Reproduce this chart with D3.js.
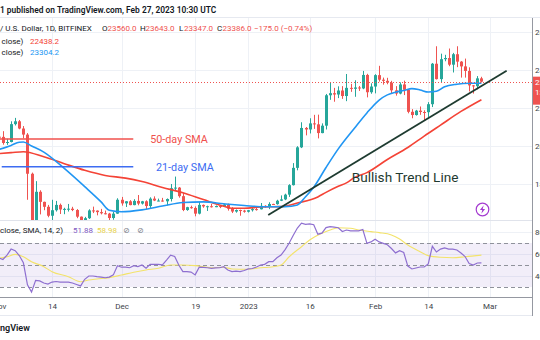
<!DOCTYPE html>
<html><head><meta charset="utf-8">
<script src="https://cdn.jsdelivr.net/npm/d3@7"></script>
<style>body{margin:0;background:#fff;overflow:hidden}svg{display:block;font-family:Roboto,"Noto Sans",sans-serif}</style>
</head><body><svg id="c" width="540" height="340"></svg>
<script>
// ---------- DATA ----------
const startDate = "2022-11-01"; // first daily candle (BTC/USD, Bitfinex, 1D)
const opens = [20490,20480,20160,20210,21150,21300,20920,20600,18540,15890,17590,17060,16800,16330,16620,16900,16660,16690,16700,16630,16280,15780,16200,16610,16600,16520,16460,16440,16210,16440,
17170,16980,17090,16890,17110,16970,17090,16840,17230,17130,17130,17090,17210,17780,17810,17360,16630,16780,16740,16440,16900,16820,16830,16780,16840,16830,16920,16700,16550,16630,16600,
16540,16620,16680,16670,16850,16830,16950,16940,17120,17190,17440,17940,18850,19930,20950,20870,21190,21140,20680,21070,22670,22780,22710,22920,22630,23060,23010,23080,23030,23740,22830,
23130,23730,23490,23430,23330,22930,22760,23240,22960,21800,21630,21860,21790,21780,22200,24330,23520,24570,24630,24280,24830,24440,24190,23950,23190,23150,23560];
const highs = [20700,20780,20380,21300,21480,21370,21050,20680,18600,18150,17670,17070,16900,17170,17110,16970,16750,16950,16800,16680,16290,16270,16670,16810,16610,16690,16600,16480,16530,17250,
17320,17100,17150,17200,17420,17110,17140,17300,17350,17230,17270,17240,18000,18390,17840,17530,16800,16860,16820,17050,16920,16860,16950,16870,16860,16940,16970,16780,16660,16650,16640,
16630,16760,16780,17000,16880,17040,16960,17170,17400,17490,17990,19100,19990,21250,21000,21460,21640,21650,21190,22740,23320,23060,23140,23150,23790,23270,23460,23160,23950,23800,23300,
23780,24220,23600,23590,23430,23150,23350,23440,23000,21940,21900,22080,21880,22310,24370,25250,24860,24800,25130,24900,25250,24470,24600,24140,23210,23680,23643];
const lows = [20330,20070,20060,20190,21080,20880,20400,17170,15600,15760,16400,16620,16250,15820,16550,16420,16410,16550,16570,16200,15480,15620,16160,16470,16350,16400,16400,16000,16120,16430,
16860,16790,16880,16880,16880,16920,16680,16740,17100,17090,17070,16870,17080,17660,17280,16570,16590,16700,16300,16400,16750,16580,16760,16780,16730,16790,16600,16470,16490,16330,16490,
16500,16550,16600,16660,16750,16680,16900,16910,17100,17150,17320,17920,18720,19890,20560,20660,20900,20400,20670,20870,22430,22330,22520,22480,22360,22850,22590,22900,22990,22560,22750,
22770,23390,23230,23250,22770,22650,22720,22680,21720,21460,21600,21640,21360,21530,22050,23500,23360,24460,24200,23870,24150,23600,23600,22870,22760,22980,23347];
const closes = [20480,20160,20210,21150,21300,20920,20600,18540,15890,17590,17060,16800,16330,16620,16900,16660,16690,16700,16630,16280,15780,16200,16610,16600,16520,16460,16440,16210,16440,17170,
16980,17090,16890,17110,16970,17090,16840,17230,17130,17130,17090,17210,17780,17810,17360,16630,16780,16740,16440,16900,16820,16830,16780,16840,16830,16920,16700,16550,16630,16600,16540,
16620,16680,16670,16850,16830,16950,16940,17120,17190,17440,17940,18850,19930,20950,20870,21190,21140,20680,21070,22670,22780,22710,22920,22630,23060,23010,23080,23030,23740,22830,23130,
23730,23490,23430,23330,22930,22760,23240,22960,21800,21630,21860,21790,21780,22200,24330,23520,24570,24630,24280,24830,24440,24190,23950,23190,23150,23560,23386];

// SMA lines (day offset from startDate, price)
const sma21Days = [0,3,5,6,8,11,16,21,25,27,30,35,40,45,50,55,60,65,70,73,75,77,80,83,87,90,93,95,97,99,101,103,105,107,109,112,115,118];
const sma21Vals = [19820,20030,20200,20210,20000,19680,18820,17860,17060,16620,16540,16640,16840,17030,17060,16960,16870,16800,16810,16900,17330,17830,18870,19850,20950,21740,22420,22690,22830,22920,23020,22950,22840,22880,23120,23250,23300,23304];
const sma50Days = [0,3,6,11,16,21,26,31,35,40,45,50,55,57,60,64,69,73,78,80,83,85,87,90,95,100,104,108,113,118];
const sma50Vals = [19600,19650,19700,19430,19070,18720,18450,18310,18130,17820,17540,17180,16830,16720,16720,16790,16810,17000,17320,17560,17880,18060,18350,18600,19290,19920,20520,21100,21820,22438];

// RSI (14) daily values and its SMA (sampled)
const rsi = [56.4,55,59,64.5,63,58.6,52,32,25.5,36,35.5,33.6,32.7,34.5,35,34.5,34.5,34.5,33.6,32.3,
31,37,40,40,39.4,39,38.4,39,41,49.4,48,48,47.5,49.4,48.5,50,47,50.6,50.6,50.5,
50.2,54.5,59,57.7,50,44,44,43.6,41,48,47.9,47.5,47,47.3,47.5,48.4,45.5,44,44.4,44,
45,46.4,46.8,48.2,50,50.6,53,53,56.6,59,64,70,77,83.6,88,87,87.3,86.6,78,79,
84,84.8,84.4,83.9,80.5,81.8,81,81,81,82.3,69.7,71,73.4,71,69.7,68.4,65,61,63,61.4,
49,46.4,47.3,48.2,48.2,51,67,61.8,64.5,65.5,64.5,64.5,63.6,60.9,57.7,51.4,50,51.8,51.88];
const rsiSmaDays = [0,2,4,6,8,11,13,17,20,22,24,27,30,33,36,39,42,45,48,52,55,57,61,64,66,69,71,74,76,79,81,83,86,88,91,93,96,98,100,103,105,108,111,114,118];
const rsiSmaVals = [56.1,57.5,59.7,57.5,53,48.5,43.9,39.4,34.8,36.4,37.3,38.5,40.9,43.4,45.5,47,50,50,49.4,47.5,47.9,46.4,46.1,47.5,47.9,50,57.5,66.6,72.7,78.8,81.8,83.9,83.4,81.8,80.3,79.4,77.3,73.6,68.2,62.1,58.5,57,56.6,57.5,58.98];

// axis ticks
const xTickDates = ["2022-11-01","2022-11-14","2022-12-01","2022-12-19","2023-01-01","2023-01-16","2023-02-01","2023-02-14","2023-03-01"];
const xTickLabels = ["Nov","14","Dec","19","2023","16","Feb","14","Mar"];
const priceTicks = [18000,20000,22000,24000,26000];
const rsiTicks = [40,60,80];
const rsiLevels = [70,50,30];
const lastPrice = 23386;

// drawings (time, price)
const trendTimes = ["2023-01-05T21:00Z","2023-03-05T04:00Z"];
const trendPrices = [16368,23963];
const hlineRed = {from:"2022-11-01T06:00Z", to:"2022-12-03T21:00Z", price:20368, label:"50-day SMA", labelAt:"2022-12-08T00:00Z"};
const hlineBlue = {from:"2022-11-01T17:00Z", to:"2022-12-03T21:00Z", price:18911, label:"21-day SMA", labelAt:"2022-12-09T10:00Z"};
const trendLabel = {text:"Bullish Trend Line", at:"2023-01-26T07:00Z", price:18121};

// ---------- LAYOUT ----------
const svg = d3.select("#c");
const axisX = 532, mainTop = 18, mainBot = 220, rsiBot = 297;
const up = "#26a69a", down = "#ef5350";
const parse = s => new Date(s.length === 10 ? s + "T00:00Z" : s);
const start = parse(startDate);
const dates = closes.map((_, i) => d3.utcDay.offset(start, i));

const x = d3.scaleUtc().domain([parse("2022-11-14"), parse("2023-03-01")]).range([52, 489.6]);
const y = d3.scaleLinear().domain([18000, 24000]).range([184, 70]);
const yr = d3.scaleLinear().domain([30, 70]).range([287, 243]);

svg.append("rect").attr("width", 540).attr("height", 340).attr("fill", "#fff");

const defs = svg.append("defs");
defs.append("clipPath").attr("id", "mainClip").append("rect").attr("x", 0).attr("y", mainTop).attr("width", axisX).attr("height", mainBot - mainTop);
defs.append("clipPath").attr("id", "rsiClip").append("rect").attr("x", 0).attr("y", mainBot).attr("width", axisX).attr("height", rsiBot - mainBot);

// header separator
svg.append("line").attr("x1", 0).attr("x2", 540).attr("y1", 17.5).attr("y2", 17.5).attr("stroke", "#e6e9f0");

// vertical grid
svg.append("g").selectAll("line").data(xTickDates).join("line")
  .attr("x1", d => Math.round(x(parse(d))) + 0.5).attr("x2", d => Math.round(x(parse(d))) + 0.5)
  .attr("y1", mainTop).attr("y2", rsiBot).attr("stroke", "#eef1f6");
// horizontal grid main
svg.append("g").selectAll("line").data(priceTicks).join("line")
  .attr("x1", 0).attr("x2", axisX).attr("y1", d => Math.round(y(d)) + 0.5).attr("y2", d => Math.round(y(d)) + 0.5)
  .attr("stroke", "#eef1f6");
// RSI grid
svg.append("g").selectAll("line").data(rsiTicks).join("line")
  .attr("x1", 0).attr("x2", axisX).attr("y1", d => Math.round(yr(d)) + 0.5).attr("y2", d => Math.round(yr(d)) + 0.5)
  .attr("stroke", "#eef1f6");

// pane separator
svg.append("line").attr("x1", 0).attr("x2", axisX).attr("y1", mainBot + 0.5).attr("y2", mainBot + 0.5).attr("stroke", "#e0e3eb");

// ---------- MAIN PANE ----------
const main = svg.append("g").attr("clip-path", "url(#mainClip)");
const candles = dates.map((d, i) => ({d, o: opens[i], h: highs[i], l: lows[i], c: closes[i]}));
const cg = main.append("g").selectAll("g").data(candles).join("g");
cg.append("line")
  .attr("x1", d => Math.round(x(d.d)) + 0.5).attr("x2", d => Math.round(x(d.d)) + 0.5)
  .attr("y1", d => y(d.h)).attr("y2", d => y(d.l))
  .attr("stroke", d => d.c >= d.o ? up : down).attr("stroke-width", 1);
cg.append("rect")
  .attr("x", d => Math.round(x(d.d)) - 1).attr("width", 3)
  .attr("y", d => y(Math.max(d.o, d.c)))
  .attr("height", d => Math.max(1, Math.abs(y(d.o) - y(d.c))))
  .attr("fill", d => d.c >= d.o ? up : down);

const smaLine = d3.line().x(d => x(dates[d[0]])).y(d => y(d[1])).curve(d3.curveMonotoneX);
main.append("path").datum(sma50Days.map((d, i) => [d, sma50Vals[i]])).attr("d", smaLine)
  .attr("fill", "none").attr("stroke", "#f44336").attr("stroke-width", 1.6);
main.append("path").datum(sma21Days.map((d, i) => [d, sma21Vals[i]])).attr("d", smaLine)
  .attr("fill", "none").attr("stroke", "#2196f3").attr("stroke-width", 1.6);

// last price line
main.append("line").attr("x1", 0).attr("x2", axisX).attr("y1", Math.round(y(lastPrice)) + 0.5).attr("y2", Math.round(y(lastPrice)) + 0.5)
  .attr("stroke", "#ef5350").attr("stroke-dasharray", "1,2").attr("stroke-width", 1);

// drawings
[[hlineRed, "#f0504c", "#f0504c"], [hlineBlue, "#3d6cf2", "#3d6cf2"]].forEach(([h, c, tc]) => {
  main.append("line").attr("x1", x(parse(h.from))).attr("x2", x(parse(h.to)))
    .attr("y1", y(h.price)).attr("y2", y(h.price)).attr("stroke", c).attr("stroke-width", 1.6);
  main.append("text").attr("x", x(parse(h.labelAt))).attr("y", y(h.price)).attr("dy", "0.36em")
    .attr("font-size", 10.8).attr("fill", tc).text(h.label);
});
main.append("line")
  .attr("x1", x(parse(trendTimes[0]))).attr("y1", y(trendPrices[0]))
  .attr("x2", x(parse(trendTimes[1]))).attr("y2", y(trendPrices[1]))
  .attr("stroke", "#1e3b30").attr("stroke-width", 1.8);
main.append("text").attr("x", x(parse(trendLabel.at))).attr("y", y(trendLabel.price))
  .attr("font-size", 13.6).attr("fill", "#1f3a30").text(trendLabel.text);

// lightning icon
const ic = svg.append("g").attr("transform", "translate(482.5,209.5)");
ic.append("circle").attr("r", 6.3).attr("fill", "#fff").attr("stroke", "#a43ad0").attr("stroke-width", 1.2);
ic.append("path").attr("d", "M1.2,-4.2 L-2.6,0.6 L-0.2,0.6 L-1.2,4.2 L2.6,-0.6 L0.2,-0.6 Z").attr("fill", "#a43ad0");

// ---------- RSI PANE ----------
const rp = svg.append("g").attr("clip-path", "url(#rsiClip)");
rp.append("rect").attr("x", 0).attr("width", axisX).attr("y", yr(70)).attr("height", yr(30) - yr(70)).attr("fill", "rgba(126,87,194,0.1)");
rp.append("g").selectAll("line").data(rsiLevels).join("line")
  .attr("x1", 0).attr("x2", axisX).attr("y1", d => Math.round(yr(d)) + 0.5).attr("y2", d => Math.round(yr(d)) + 0.5)
  .attr("stroke", "#8f929b").attr("stroke-dasharray", "4,3").attr("stroke-width", 1);
rp.append("path").datum(rsiSmaDays.map((d, i) => [d, rsiSmaVals[i]]))
  .attr("d", d3.line().x(d => x(dates[d[0]])).y(d => yr(d[1])).curve(d3.curveMonotoneX))
  .attr("fill", "none").attr("stroke", "#f3e36a").attr("stroke-width", 1.1);
rp.append("path").datum(rsi)
  .attr("d", d3.line().x((d, i) => x(dates[i])).y(d => yr(d)))
  .attr("fill", "none").attr("stroke", "#8e6fd0").attr("stroke-width", 1.2);

// RSI pane bottom border
svg.append("line").attr("x1", 0).attr("x2", axisX).attr("y1", rsiBot + 0.5).attr("y2", rsiBot + 0.5).attr("stroke", "#9598a1");

// ---------- AXES ----------
const xa = svg.append("g").attr("transform", `translate(0,${rsiBot})`)
  .call(d3.axisBottom(x).tickValues(xTickDates.map(parse)).tickFormat((d, i) => xTickLabels[i]).tickSize(0).tickPadding(6));
xa.select(".domain").remove();
xa.selectAll("text").attr("font-size", 8).attr("fill", "#3c3f48").attr("font-family", "Roboto");

svg.append("line").attr("x1", 0).attr("x2", axisX).attr("y1", 315.5).attr("y2", 315.5).attr("stroke", "#e6e9f0");

// right axis
const ya = svg.append("g").attr("transform", `translate(${axisX},0)`)
  .call(d3.axisRight(y).tickValues(priceTicks).tickFormat(d => d.toFixed(1)).tickSize(0).tickPadding(3));
ya.select(".domain").remove();
ya.selectAll("text").attr("font-size", 8).attr("fill", "#3c3f48").attr("font-family", "Roboto");
const yra = svg.append("g").attr("transform", `translate(${axisX},0)`)
  .call(d3.axisRight(yr).tickValues(rsiTicks).tickFormat(d => d.toFixed(2)).tickSize(0).tickPadding(3));
yra.select(".domain").remove();
yra.selectAll("text").attr("font-size", 8).attr("fill", "#3c3f48").attr("font-family", "Roboto");

svg.append("rect").attr("x", axisX).attr("y", y(lastPrice) - 5).attr("width", 8).attr("height", 28).attr("fill", "#ef5350");
svg.append("text").attr("x", axisX + 3).attr("y", y(lastPrice) + 3).attr("font-size", 8).attr("fill", "#fff").text("23386.0");
svg.append("text").attr("x", axisX + 3).attr("y", y(lastPrice) + 13).attr("font-size", 8).attr("fill", "#fff").text("13:29:41");
svg.append("line").attr("x1", axisX + 0.5).attr("x2", axisX + 0.5).attr("y1", mainTop).attr("y2", 316).attr("stroke", "#9598a1");

// ---------- HEADER TEXTS ----------
const T = (tx, xx, yy, col, opt = {}) => svg.append("text").attr("x", xx).attr("y", yy).attr("font-size", opt.fs || 8)
  .attr("font-weight", opt.fw || 400).attr("fill", col).attr("font-family", opt.ff || "Roboto").text(tx);
T("1 published on TradingView.com, Feb 27, 2023 10:30 UTC", 0, 13, "#131722", {fw: 600, fs: 8.4});
T("/ U.S. Dollar, 1D, BITFINEX", 0, 31, "#131722");
T("O", 102, 31, "#131722"); T("23560.0", 107.5, 31, "#ef5350");
T("H", 140, 31, "#131722"); T("23643.0", 145.5, 31, "#ef5350");
T("L", 179, 31, "#131722"); T("23347.0", 184, 31, "#ef5350");
T("C", 217, 31, "#131722"); T("23386.0", 222.5, 31, "#ef5350");
T("\u2212175.0 (\u22120.74%)", 254, 31, "#ef5350");
T("close)", 1.5, 43.5, "#131722"); T("22438.2", 30, 43.5, "#f44336");
T("close)", 1.5, 54.5, "#131722"); T("23304.2", 30, 54.5, "#2196f3");
T("close, SMA, 14, 2)", 0, 233, "#131722"); T("51.88", 73, 233, "#7e57c2"); T("58.98", 97, 233, "#e8d24a");
T("\u2298", 123, 233, "#787b86", {ff: "DejaVu Sans", fs: 8}); T("\u2298", 137, 233, "#787b86", {ff: "DejaVu Sans", fs: 8});
T("ngView", 0, 331, "#131722", {fw: 600, fs: 9});
</script></body></html>
